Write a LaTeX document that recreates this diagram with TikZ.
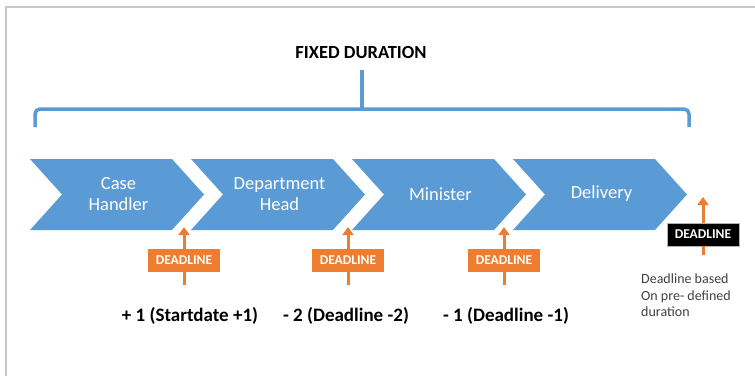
\documentclass[tikz,border=0pt]{standalone}
\usepackage{fontspec}
\setmainfont{Carlito}
\usetikzlibrary{arrows.meta}
\definecolor{chevblue}{HTML}{5B9BD5}
\definecolor{dlorange}{HTML}{ED7D31}
\definecolor{framegray}{HTML}{C8C8C8}
\definecolor{notegray}{HTML}{404040}
\tikzset{chev/.style={
  fill=chevblue
}}
\tikzset{chevtext/.style={
  text=white,
  align=center,
  font=\fontsize{18.5}{21}\selectfont
}}
\tikzset{brace/.style={
  draw=chevblue,
  line width=3.5pt,
  rounded corners=5pt
}}
\tikzset{dlbox/.style={
  fill=dlorange,
  text=white,
  minimum width=72pt,
  minimum height=23pt,
  inner sep=0pt,
  font=\bfseries\fontsize{13.5}{14}\selectfont
}}
\tikzset{dlfinal/.style={dlbox,fill=black,draw=gray!60,line width=0.8pt}}
\tikzset{dlarrow/.style={
  draw=dlorange,
  line width=3pt,
  -{Triangle[width=11pt,length=8pt]}
}}
\tikzset{dlline/.style={draw=dlorange,line width=3pt}}
\tikzset{lab/.style={font=\bfseries\fontsize{19}{22}\selectfont}}

\begin{document}
\begin{tikzpicture}[x=1pt,y=-1pt]
    \useasboundingbox (0,0) rectangle (755,376);
    % Frame
    \draw[framegray,line width=1.5pt] (6,376) -- (6,7) -- (755,7);

    % Title and bracket
    \node[font=\bfseries\fontsize{18.5}{22}\selectfont] (title) at (361,52) {FIXED DURATION};
    \coordinate (brl) at (35,127);
    \coordinate (brr) at (689,127);
    \coordinate (brm) at (362,109);
    \draw[brace] (brl) -- (35,109) -- (689,109) -- (brr);
    \draw[brace,rounded corners=0pt] (brm) -- (362,70);

    % Chevrons
    \foreach \x/\name/\txt in {30/handler/{Case\\Handler},
                                191/head/{Department\\Head},
                                352/minister/{Minister},
                                513/delivery/{Delivery}} {
      \fill[chev] (\x,159) -- ++(142,0) -- ++(32,35.5) -- ++(-32,35.5)
        -- ++(-142,0) -- ++(32,-35.5) -- cycle;
      \node[chevtext] (\name) at (\x+88.5,194) {\txt};
    }

    % Deadlines
    \foreach \x/\name in {184/dla, 348/dlb, 504/dlc} {
      \node[dlbox] (\name) at (\x,260.5) {DEADLINE};
      \coordinate (\name top) at (\x,227);
      \coordinate (\name bot) at (\x,285);
      \draw[dlarrow] (\name.north) -- (\name top);
      \draw[dlline] (\name.south) -- (\name bot);
    }
    \node[dlfinal] (dld) at (703,234.5) {DEADLINE};
    \coordinate (dldtop) at (703,197);
    \coordinate (dldbot) at (703,255);
    \draw[dlarrow] (dld.north) -- (dldtop);
    \draw[dlline] (dld.south) -- (dldbot);

    % Offsets
    \node[lab] (laba) at (190,316) {+ 1 (Startdate +1)};
    \node[lab] (labb) at (346,316) {- 2 (Deadline -2)};
    \node[lab] (labc) at (506,316) {- 1 (Deadline -1)};
    \node[anchor=north west,align=left,inner sep=0pt,text=notegray,
          font=\fontsize{14}{16.5}\selectfont] (note) at (641,274)
      {Deadline based\\On pre- defined\\duration};

  \end{tikzpicture}
\end{document}
